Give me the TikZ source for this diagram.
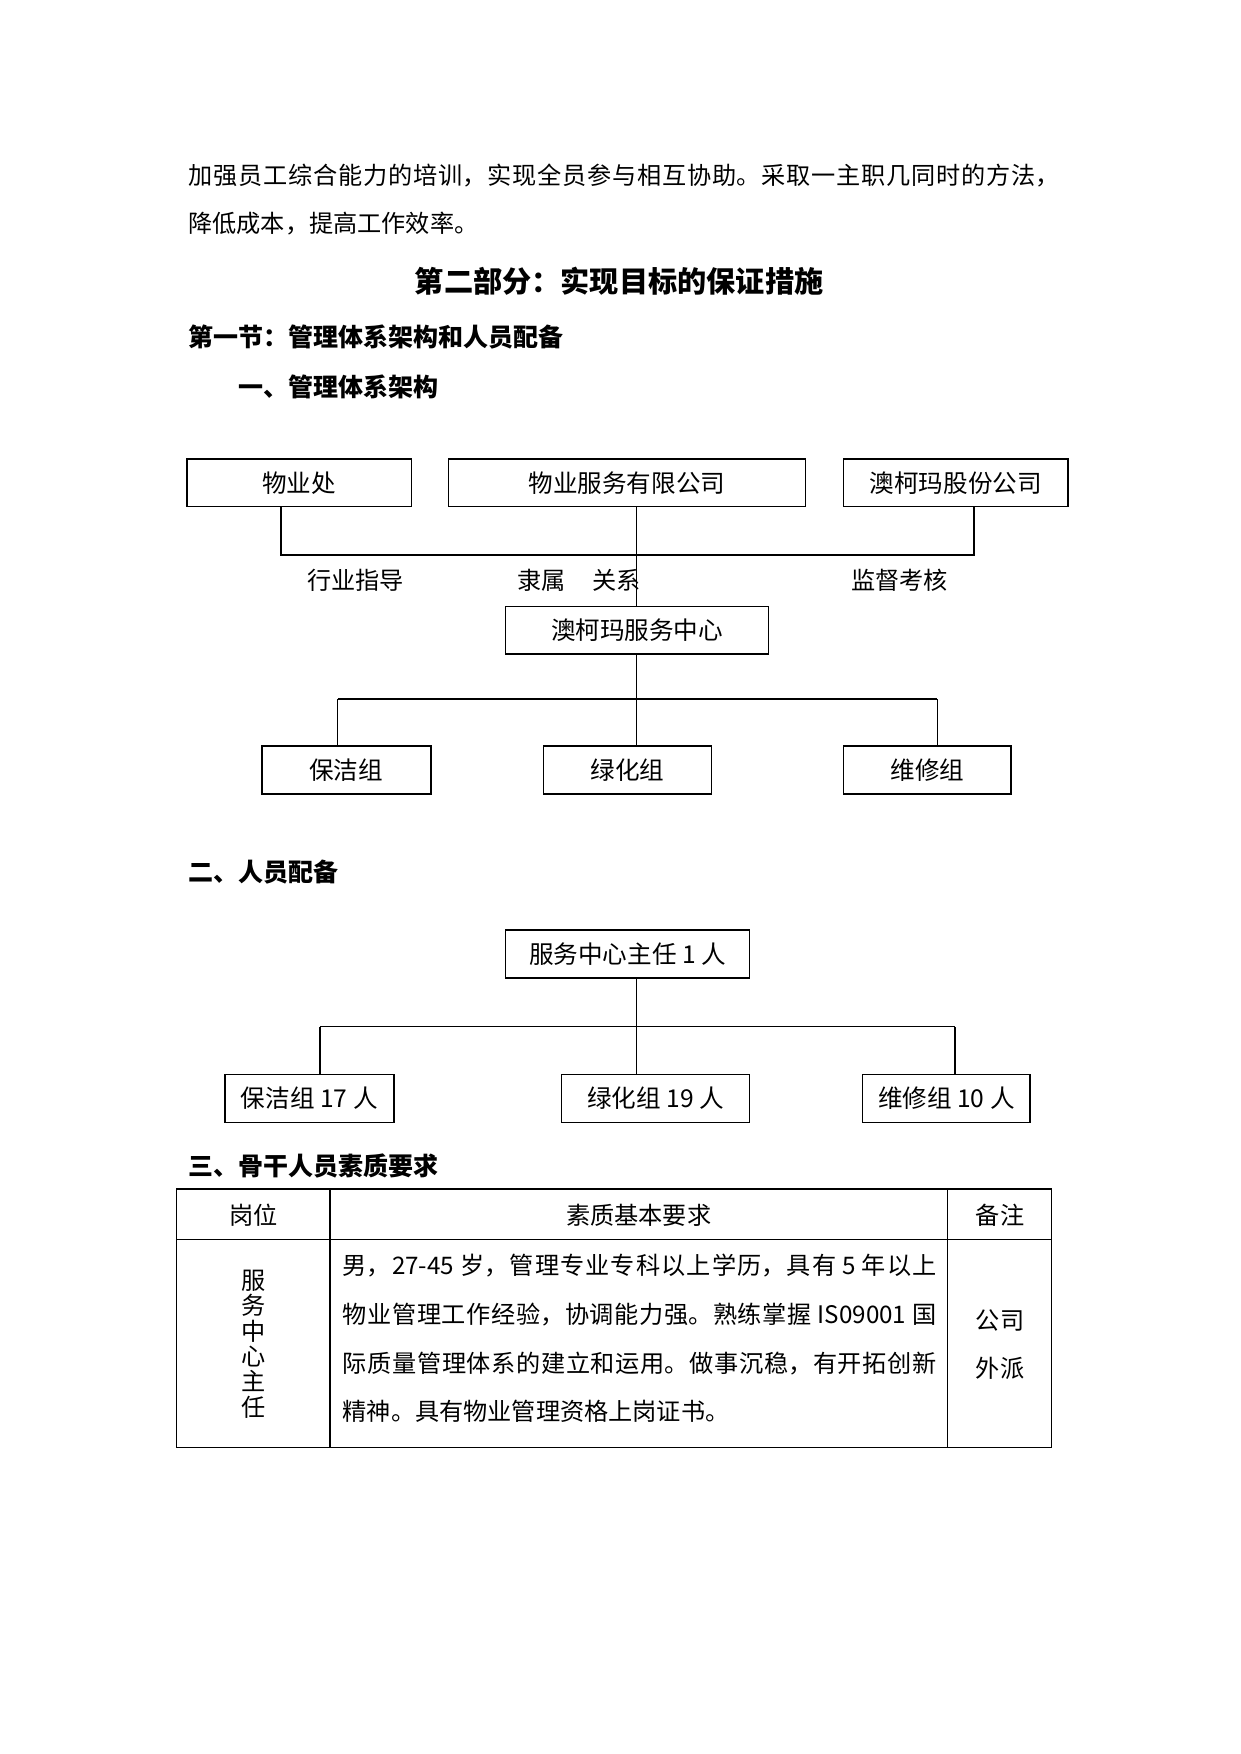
\documentclass[tikz,border=0pt]{standalone}
\usepackage{fontspec}
\setmainfont{Noto Sans CJK SC}
\XeTeXlinebreaklocale "zh"
\XeTeXlinebreakskip=0pt plus 3pt
\newcommand{\justline}[2]{\parbox{#1}{\parfillskip=0pt\parindent=0pt\spaceskip=0.25em plus 0.2pt\relax #2\par}}
\begin{document}
\begin{tikzpicture}[x=0.5368pt,y=-0.5368pt,
  box/.style={draw,line width=0.8pt,minimum height=23pt,inner sep=0pt,font=\fontsize{11.8}{14}\selectfont},
  thickln/.style={line width=1pt},
  thinln/.style={line width=0.5pt},
  para/.style={anchor=west,inner sep=0pt,font=\fontsize{11.6}{14}\selectfont},
  head/.style={anchor=west,inner sep=0pt,font=\fontsize{12}{14}\selectfont\bfseries},
  lbl/.style={inner sep=0pt,font=\fontsize{11.6}{14}\selectfont},
  cell/.style={inner sep=0pt,font=\fontsize{11.6}{14}\selectfont}]
\useasboundingbox[fill=white] (0,0) rectangle (1109,1568);

% paragraph
\node[para] (p1) at (168,157) {\justline{418pt}{加强员工综合能力的培训，实现全员参与相互协助。采取一主职几同时的方法，}};
\node[para] (p2) at (168,200) {降低成本，提高工作效率。};
\node[inner sep=0pt,font=\fontsize{14}{16}\selectfont\bfseries] (title) at (553.5,251) {第二部分：实现目标的保证措施};
\node[head] (h1) at (168,301) {第一节：管理体系架构和人员配备};
\node[head] (h2) at (213,346) {一、管理体系架构};

% org chart 1
\node[box,minimum width=201*0.5368pt] (wyc) at (267.5,431.5) {物业处};
\node[box,minimum width=319*0.5368pt] (wyfw) at (560.5,431.5) {物业服务有限公司};
\node[box,minimum width=201*0.5368pt] (akm) at (854.5,431.5) {澳柯玛股份公司};
\node[box,minimum width=235*0.5368pt] (akmc) at (569.5,563.5) {澳柯玛服务中心};
\node[box,minimum width=151*0.5368pt] (bj) at (309.5,688.5) {保洁组};
\node[box,minimum width=150*0.5368pt] (lh) at (561,688.5) {绿化组};
\node[box,minimum width=150*0.5368pt] (wx) at (829,688.5) {维修组};

\coordinate (b1l) at (251,496);
\coordinate (b1r) at (871,496);
\coordinate (b2l) at (302,625);
\coordinate (b2m) at (569,625);
\coordinate (b2r) at (838,625);

\draw[thickln] (b1l |- wyc.south) -- (b1l) -- (b1r) -- (b1r |- akm.south);
\draw[thinln] (b2m |- wyfw.south) -- (b2m |- akmc.north);
\draw[thinln] (b2m |- akmc.south) -- (b2m);
\draw[thickln] (b2l) -- (b2r);
\draw[thinln] (b2l) -- (b2l |- bj.north);
\draw[thinln] (b2m) -- (b2m |- lh.north);
\draw[thinln] (b2r) -- (b2r |- wx.north);

\node[lbl] (l1) at (318,519) {行业指导};
\node[lbl] (l2a) at (484,519) {隶属};
\node[lbl] (l2b) at (551,519) {关系};
\node[lbl] (l3) at (804,519) {监督考核};

% section 2
\node[head] (h3) at (168,780) {二、人员配备};
\node[box,minimum width=218*0.5368pt] (zr) at (561,853) {服务中心主任 1 人};
\node[box,minimum width=151*0.5368pt] (bj2) at (276.5,982) {保洁组 17 人};
\node[box,minimum width=168*0.5368pt] (lh2) at (586,982) {绿化组 19 人};
\node[box,minimum width=150*0.5368pt] (wx2) at (846,982) {维修组 10 人};
\coordinate (c2l) at (286,918);
\coordinate (c2m) at (569,918);
\coordinate (c2r) at (854,918);
\draw[thinln] (c2m |- zr.south) -- (c2m);
\draw[thinln] (c2l) -- (c2r);
\draw[thickln] (c2l) -- (c2l |- bj2.north);
\draw[thinln] (c2m) -- (c2m |- lh2.north);
\draw[thickln] (c2r) -- (c2r |- wx2.north);

% section 3
\node[head] (h4) at (168,1042) {三、骨干人员素质要求};
\draw[line width=0.6pt] (158,1063) rectangle (940,1294);
\draw[line width=0.6pt] (158,1108) -- (940,1108);
\draw[line width=0.6pt] (295,1063) -- (295,1294);
\draw[line width=0.6pt] (847,1063) -- (847,1294);
\node[cell] (t1) at (227,1086) {岗位};
\node[cell] (t2) at (571,1086) {素质基本要求};
\node[cell] (t3) at (894,1086) {备注};
\node[cell,align=center,font=\fontsize{11.6}{12.2}\selectfont] (t4) at (227,1201.5) {服\\务\\中\\心\\主\\任};
\node[cell,anchor=west] (r1) at (306,1131) {\justline{285pt}{男，27-45 岁，管理专业专科以上学历，具有 5 年以上}};
\node[cell,anchor=west] (r2) at (306,1175) {\justline{285pt}{物业管理工作经验，协调能力强。熟练掌握 IS09001 国}};
\node[cell,anchor=west] (r3) at (306,1219) {\justline{285pt}{际质量管理体系的建立和运用。做事沉稳，有开拓创新}};
\node[cell,anchor=west] (r4) at (306,1262) {精神。具有物业管理资格上岗证书。};
\node[cell] (t5) at (894,1180) {公司};
\node[cell] (t6) at (894,1223) {外派};
\end{tikzpicture}
\end{document}
